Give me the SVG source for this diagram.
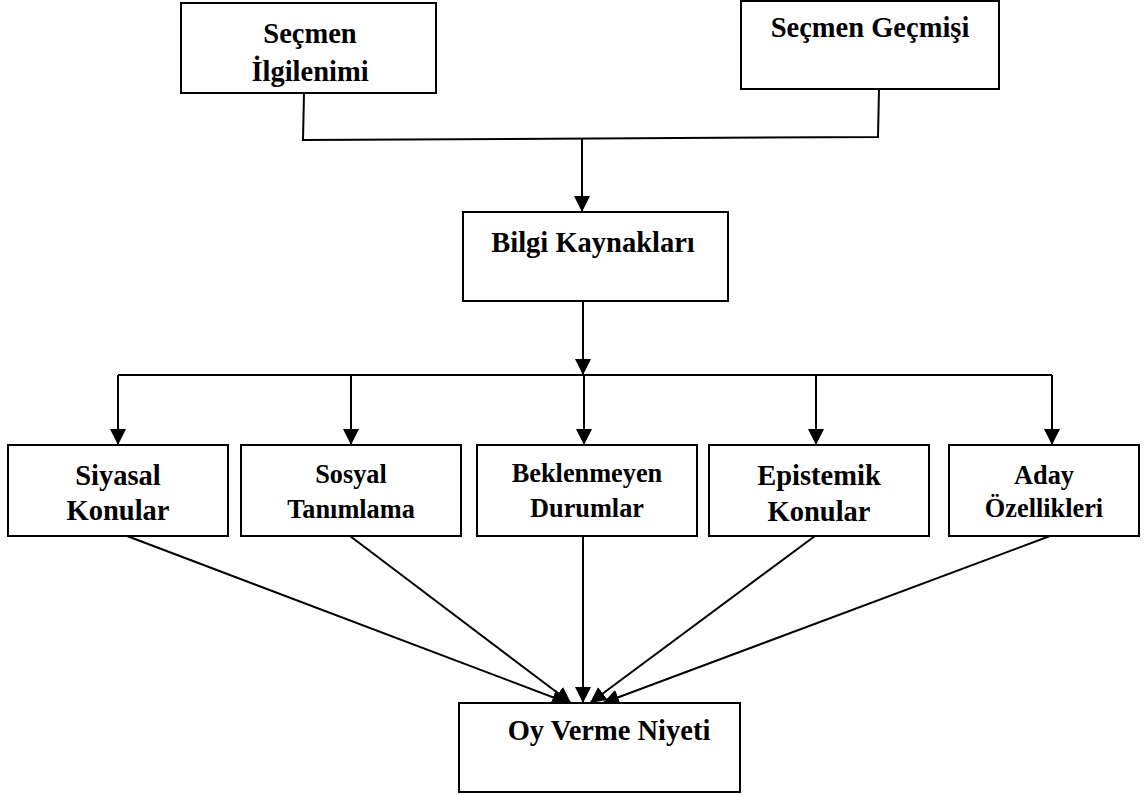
<svg xmlns="http://www.w3.org/2000/svg" width="1145" height="796" viewBox="0 0 1145 796">
  <defs>
    <marker id="arrow" viewBox="0 0 16 16" refX="16" refY="8" markerWidth="16" markerHeight="16" markerUnits="userSpaceOnUse" orient="auto">
      <path d="M0,0 L16,8 L0,16 Z" fill="#000"/>
    </marker>
    <style>
      .box { fill: #fff; stroke: #000; stroke-width: 2; }
      .lbl { font-family: "Liberation Serif", "Times New Roman", serif; font-weight: bold; font-size: 28.5px; fill: #000; text-anchor: middle; }
      .sm { font-size: 26.3px; }
      .ln { fill: none; stroke: #000; stroke-width: 2; }
      .ar { fill: none; stroke: #000; stroke-width: 2; marker-end: url(#arrow); }
    </style>
  </defs>
  <rect width="1145" height="796" fill="#fff"/>

  <g id="connectors">
    <!-- join of the two top boxes -->
    <path class="ln" d="M304,93 L303,140 L878,137 L879,89"/>
    <path class="ar" d="M582,139 L582,212"/>
    <!-- fan out from Bilgi Kaynaklari -->
    <path class="ar" d="M583,301 L583,375"/>
    <path class="ln" d="M118,375 L1052,375"/>
    <path class="ar" d="M118,375 L118,445"/>
    <path class="ar" d="M351,375 L351,445"/>
    <path class="ar" d="M584,375 L584,445"/>
    <path class="ar" d="M816,375 L816,445"/>
    <path class="ar" d="M1052,375 L1052,445"/>
    <!-- converge on Oy Verme Niyeti -->
    <path class="ar" d="M127,536 L568,703"/>
    <path class="ar" d="M350,536 L571,703"/>
    <path class="ar" d="M583,536 L583,703"/>
    <path class="ar" d="M815,536 L590,703"/>
    <path class="ar" d="M1050,536 L603,703"/>
  </g>

  <g id="secmen-ilgilenimi">
    <rect class="box" x="181" y="3" width="255" height="90"/>
    <text class="lbl" x="310" y="43">Seçmen</text>
    <text class="lbl" x="310" y="81">İlgilenimi</text>
  </g>

  <g id="secmen-gecmisi">
    <rect class="box" x="741" y="1" width="258" height="88"/>
    <text class="lbl" x="870" y="37">Seçmen Geçmişi</text>
  </g>

  <g id="bilgi-kaynaklari">
    <rect class="box" x="463" y="212" width="265" height="89"/>
    <text class="lbl" x="593" y="252">Bilgi Kaynakları</text>
  </g>

  <g id="siyasal-konular">
    <rect class="box" x="8" y="445" width="220" height="91"/>
    <text class="lbl" x="118" y="485">Siyasal</text>
    <text class="lbl" x="118" y="520">Konular</text>
  </g>

  <g id="sosyal-tanimlama">
    <rect class="box" x="241" y="445" width="220" height="91"/>
    <text class="lbl sm" x="351" y="483">Sosyal</text>
    <text class="lbl sm" x="351" y="518">Tanımlama</text>
  </g>

  <g id="beklenmeyen-durumlar">
    <rect class="box" x="477" y="445" width="220" height="91"/>
    <text class="lbl sm" x="587" y="482">Beklenmeyen</text>
    <text class="lbl sm" x="587" y="517">Durumlar</text>
  </g>

  <g id="epistemik-konular">
    <rect class="box" x="709" y="445" width="220" height="91"/>
    <text class="lbl" x="819" y="485">Epistemik</text>
    <text class="lbl" x="819" y="521">Konular</text>
  </g>

  <g id="aday-ozellikleri">
    <rect class="box" x="949" y="445" width="190" height="91"/>
    <text class="lbl sm" x="1044" y="484">Aday</text>
    <text class="lbl sm" x="1044" y="517">Özellikleri</text>
  </g>

  <g id="oy-verme-niyeti">
    <rect class="box" x="459" y="703" width="281" height="89"/>
    <text class="lbl" x="609" y="740">Oy Verme Niyeti</text>
  </g>
</svg>
